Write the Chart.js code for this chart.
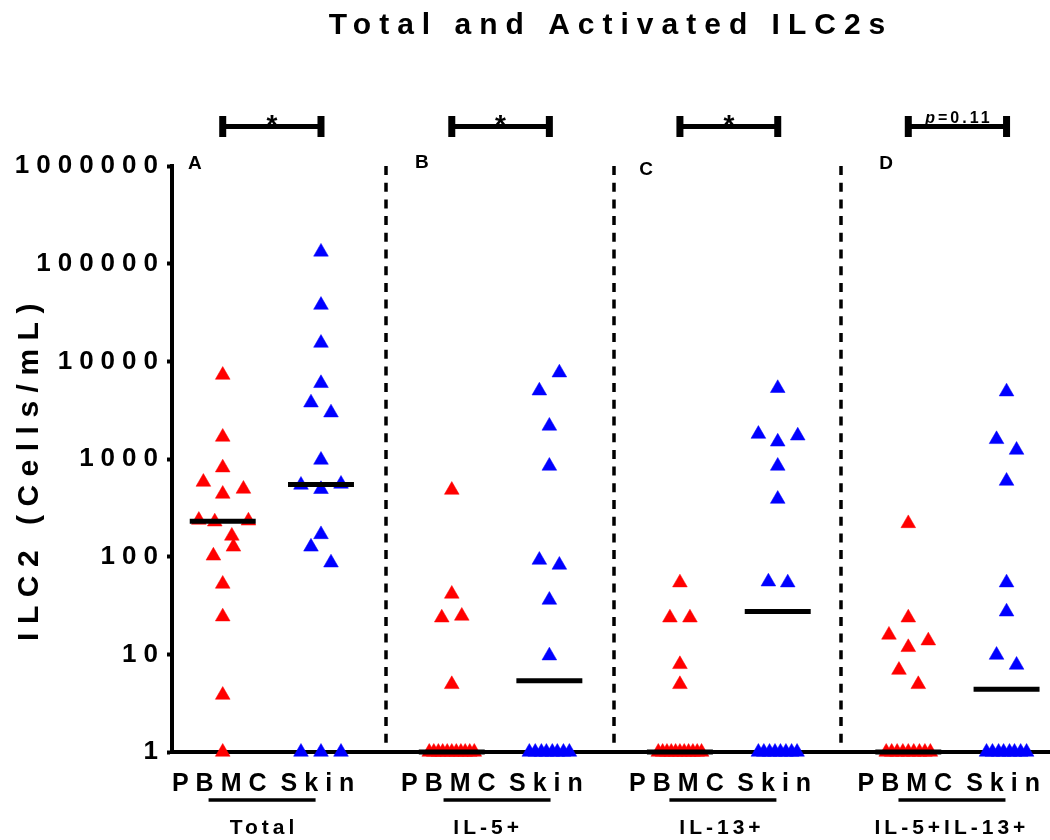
<!DOCTYPE html>
<html>
<head>
<meta charset="utf-8">
<script src="https://cdn.jsdelivr.net/npm/chart.js@4"></script>
<style>
html,body{margin:0;padding:0;background:#fff;}
canvas{display:block;}
</style>
</head>
<body>
<canvas id="c" width="1050" height="840"></canvas>
<script>
const FONT = "'Liberation Sans', Arial, Helvetica, sans-serif";

// ---- data ----
const categories = ['Total', 'IL-5+', 'IL-13+', 'IL-5+IL-13+'];
const panelLetters = ['A', 'B', 'C', 'D'];
const groupNames = ['PBMC', 'Skin'];
const yTickValues = [1, 10, 100, 1000, 10000, 100000, 1000000];
const significance = ['*', '*', '*', 'p=0.11'];
const yAxisTitle = 'ILC2 (Cells/mL)';

const pbmcTotal   = [7240, 1680, 815, 581, 438, 493, 237, 228, 233, 163, 126, 102, 52.5, 24.3, 3.83, 1];
const skinTotal   = [132000, 37700, 15400, 5960, 3770, 2980, 977, 542, 490, 555, 169, 126, 86.7, 1, 1, 1];
const pbmcIL5     = [481, 41.5, 23.7, 24.7, 4.93, 1, 1, 1, 1, 1, 1, 1, 1, 1, 1, 1];
const skinIL5     = [7650, 5000, 2180, 848, 92.4, 82.2, 36, 9.69, 1, 1, 1, 1, 1, 1, 1, 1];
const pbmcIL13    = [54.2, 23.7, 23.7, 7.9, 4.93, 1, 1, 1, 1, 1, 1, 1, 1, 1, 1, 1];
const skinIL13    = [5300, 1800, 1730, 1500, 848, 389, 55.4, 54.2, 1, 1, 1, 1, 1, 1, 1, 1];
const pbmcIL5IL13 = [219, 23.7, 15.8, 13.8, 11.8, 6.9, 4.93, 1, 1, 1, 1, 1, 1, 1, 1, 1];
const skinIL5IL13 = [4890, 1590, 1236, 595, 54.2, 27.3, 9.84, 7.78, 1, 1, 1, 1, 1, 1, 1, 1];

const pbmcMedians = [230, 1, 1, 1];
const skinMedians = [548, 5.35, 27.5, 4.4];

// ---- horizontal scatter of the dots inside a column (panel widths) ----
const pbmcTotalJitter   = [0, 0, 0, -0.085, 0, 0.091, -0.105, -0.035, 0.113, 0.040, 0.047, -0.041, 0, 0, 0, 0];
const skinTotalJitter   = [0, 0, 0, 0, -0.044, 0.044, 0, -0.088, 0, 0.088, 0, -0.044, 0.044, -0.088, 0, 0.088];
const pbmcIL5Jitter     = [0, 0, -0.044, 0.044, 0, -0.099, -0.079, -0.059, -0.040, -0.020, 0, 0.020, 0.040, 0.059, 0.079, 0.099];
const skinIL5Jitter     = [0.044, -0.044, 0, 0, -0.044, 0.044, 0, 0, -0.088, -0.062, -0.035, -0.013, 0.013, 0.035, 0.062, 0.088];
const pbmcIL13Jitter    = [0, -0.044, 0.044, 0, 0, -0.095, -0.076, -0.057, -0.038, -0.019, 0, 0.019, 0.038, 0.057, 0.076, 0.095];
const skinIL13Jitter    = [0, -0.085, 0.088, 0, 0, 0, -0.041, 0.044, -0.085, -0.061, -0.036, -0.012, 0.012, 0.036, 0.061, 0.085];
const pbmcIL5IL13Jitter = [0, 0, -0.085, 0.088, 0, -0.041, 0.044, -0.097, -0.073, -0.049, -0.024, 0, 0.024, 0.049, 0.073, 0.097];
const skinIL5IL13Jitter = [0, -0.044, 0.044, 0, 0, 0, -0.044, 0.044, -0.088, -0.062, -0.035, -0.013, 0.013, 0.035, 0.062, 0.088];

// ---- layout (x in panel units, each panel is 1 wide) ----
const X_MIN = 0.059, X_MAX = 3.919;
const pbmcCenter = [0.282, 1.289, 2.292, 3.296];
const skinCenter = [0.714, 1.718, 2.722, 3.728];
const LABEL_SHIFT = 0.0;
const groupLabelCenter = [0.455, 1.440, 2.468, 3.479];
const underlineCenter = [0.455, 1.488, 2.481, 3.488];
const letterPos = [[0.160, 164], [1.158, 163], [2.143, 170], [3.198, 164]];
const MEDIAN_HALF = 0.145;

const pbmcSets = [pbmcTotal, pbmcIL5, pbmcIL13, pbmcIL5IL13];
const skinSets = [skinTotal, skinIL5, skinIL13, skinIL5IL13];
const pbmcJit = [pbmcTotalJitter, pbmcIL5Jitter, pbmcIL13Jitter, pbmcIL5IL13Jitter];
const skinJit = [skinTotalJitter, skinIL5Jitter, skinIL13Jitter, skinIL5IL13Jitter];

function toPoints(sets, jit, centers) {
  const out = [];
  sets.forEach((vals, i) => vals.forEach((v, j) => out.push({x: centers[i] + jit[i][j], y: v})));
  return out;
}
function medianSegments() {
  const out = [];
  for (let i = 0; i < 4; i++) {
    [[pbmcCenter[i], pbmcMedians[i]], [skinCenter[i], skinMedians[i]]].forEach(([c, m]) => {
      out.push({x: c - MEDIAN_HALF, y: m}, {x: c + MEDIAN_HALF, y: m}, {x: c + MEDIAN_HALF, y: null});
    });
  }
  return out;
}
function tickPositions() {
  const out = [];
  for (let i = 0; i < 4; i++) out.push(pbmcCenter[i] + LABEL_SHIFT, skinCenter[i] + LABEL_SHIFT);
  return out;
}

const decor = {
  id: 'decor',
  beforeDraw(chart) {
    chart.ctx.letterSpacing = '8px';
  },
  beforeDatasetsDraw(chart) {
    const ctx = chart.ctx, xs = chart.scales.x;
    const {top, bottom} = chart.chartArea;
    ctx.save();
    ctx.strokeStyle = '#000';
    ctx.lineWidth = 3.5;
    ctx.setLineDash([9, 7.7]);
    [1, 2, 3].forEach(b => {
      const px = Math.round(xs.getPixelForValue(b));
      ctx.beginPath(); ctx.moveTo(px, top); ctx.lineTo(px, bottom); ctx.stroke();
    });
    ctx.restore();
  },
  afterDatasetsDraw(chart) {
    const ctx = chart.ctx, xs = chart.scales.x, ys = chart.scales.y;
    ctx.save();
    ctx.fillStyle = '#000';
    ctx.strokeStyle = '#000';
    // significance brackets
    for (let i = 0; i < 4; i++) {
      const x1 = xs.getPixelForValue(pbmcCenter[i]);
      const x2 = xs.getPixelForValue(skinCenter[i]);
      ctx.lineWidth = 5;
      ctx.beginPath(); ctx.moveTo(x1, 126.5); ctx.lineTo(x2, 126.5); ctx.stroke();
      ctx.fillRect(x1 - 3.5, 116, 7, 21);
      ctx.fillRect(x2 - 3.5, 116, 7, 21);
      const mid = (x1 + x2) / 2;
      const s = significance[i];
      ctx.textBaseline = 'alphabetic';
      if (s.startsWith('p=')) {
        ctx.letterSpacing = '3px';
        ctx.font = 'italic bold 16px ' + FONT;
        const pw = ctx.measureText('p').width;
        ctx.font = 'bold 16px ' + FONT;
        const rest = s.slice(1);
        const rw = ctx.measureText(rest).width;
        const start = mid - (pw + rw - 3) / 2;
        ctx.textAlign = 'left';
        ctx.font = 'italic bold 16px ' + FONT;
        ctx.fillText('p', start, 123);
        ctx.font = 'bold 16px ' + FONT;
        ctx.fillText(rest, start + pw, 123);
      } else {
        ctx.letterSpacing = '0px';
        ctx.textAlign = 'center';
        ctx.font = 'bold 28px ' + FONT;
        ctx.fillText(s, mid, 134);
      }
    }
    // panel letters
    ctx.letterSpacing = '0px';
    ctx.textAlign = 'center';
    ctx.textBaseline = 'middle';
    ctx.font = 'bold 19px ' + FONT;
    panelLetters.forEach((L, i) => {
      ctx.fillText(L, xs.getPixelForValue(letterPos[i][0]), letterPos[i][1]);
    });
    // group underline and group names
    ctx.letterSpacing = '4px';
    ctx.font = 'bold 21px ' + FONT;
    categories.forEach((c, i) => {
      const ux = xs.getPixelForValue(underlineCenter[i]);
      ctx.lineWidth = 3.5;
      ctx.beginPath(); ctx.moveTo(ux - 53.5, 800); ctx.lineTo(ux + 53.5, 800); ctx.stroke();
      ctx.fillText(c, xs.getPixelForValue(groupLabelCenter[i]) + 2, 828);
    });
    // y axis title
    ctx.letterSpacing = '8.5px';
    ctx.font = 'bold 30px ' + FONT;
    ctx.translate(30, (ys.top + ys.bottom) / 2 + 13);
    ctx.rotate(-Math.PI / 2);
    ctx.fillText(yAxisTitle, 4, 0);
    ctx.restore();
    ctx.letterSpacing = '7px';
  }
};

new Chart(document.getElementById('c'), {
  type: 'scatter',
  data: {
    datasets: [
      {
        type: 'line', label: 'Median', data: medianSegments(),
        borderColor: '#000', borderWidth: 5, pointRadius: 0, spanGaps: false,
        borderCapStyle: 'butt', clip: false, order: 0
      },
      {
        label: groupNames[0], data: toPoints(pbmcSets, pbmcJit, pbmcCenter),
        pointStyle: 'triangle', pointRadius: 8.5, pointHoverRadius: 8.5,
        backgroundColor: '#ff0000', borderColor: '#ff0000', borderWidth: 0.5, clip: false, order: 1
      },
      {
        label: groupNames[1], data: toPoints(skinSets, skinJit, skinCenter),
        pointStyle: 'triangle', pointRadius: 8.5, pointHoverRadius: 8.5,
        backgroundColor: '#0000ff', borderColor: '#0000ff', borderWidth: 0.5, clip: false, order: 1
      }
    ]
  },
  options: {
    responsive: false,
    animation: false,
    events: [],
    layout: {padding: 0, autoPadding: false},
    plugins: {
      legend: {display: false},
      tooltip: {enabled: false},
      title: {
        display: true, text: 'Total and Activated ILC2s', color: '#000',
        fullSize: false,
        font: {family: FONT, size: 30, weight: 'bold'},
        padding: {top: 8, bottom: 122}
      }
    },
    scales: {
      x: {
        type: 'linear', min: X_MIN, max: X_MAX,
        grid: {display: false, drawTicks: false},
        border: {display: true, color: '#000', width: 4},
        afterBuildTicks: s => { s.ticks = tickPositions().map(v => ({value: v})); },
        afterFit: s => { s.height = 88; s.paddingLeft = 0; s.paddingRight = 0; },
        ticks: {
          z: 1, autoSkip: false, maxRotation: 0, padding: 17, color: '#000',
          font: {family: FONT, size: 25, weight: 'bold'},
          callback: (v, i) => groupNames[i % 2]
        }
      },
      y: {
        type: 'logarithmic', min: 1, max: 1000000,
        grid: {drawOnChartArea: false, drawTicks: true, tickLength: 5, tickWidth: 4, color: '#000'},
        border: {display: true, color: '#000', width: 4},
        afterBuildTicks: s => { s.ticks = yTickValues.map(v => ({value: v})); },
        afterFit: s => { s.width = 172; },
        ticks: {
          z: 1, padding: 2, color: '#000',
          font: {family: FONT, size: 26, weight: 'bold'},
          callback: v => String(v)
        },
        title: {display: false}
      }
    }
  },
  plugins: [decor]
});
</script>
</body>
</html>
